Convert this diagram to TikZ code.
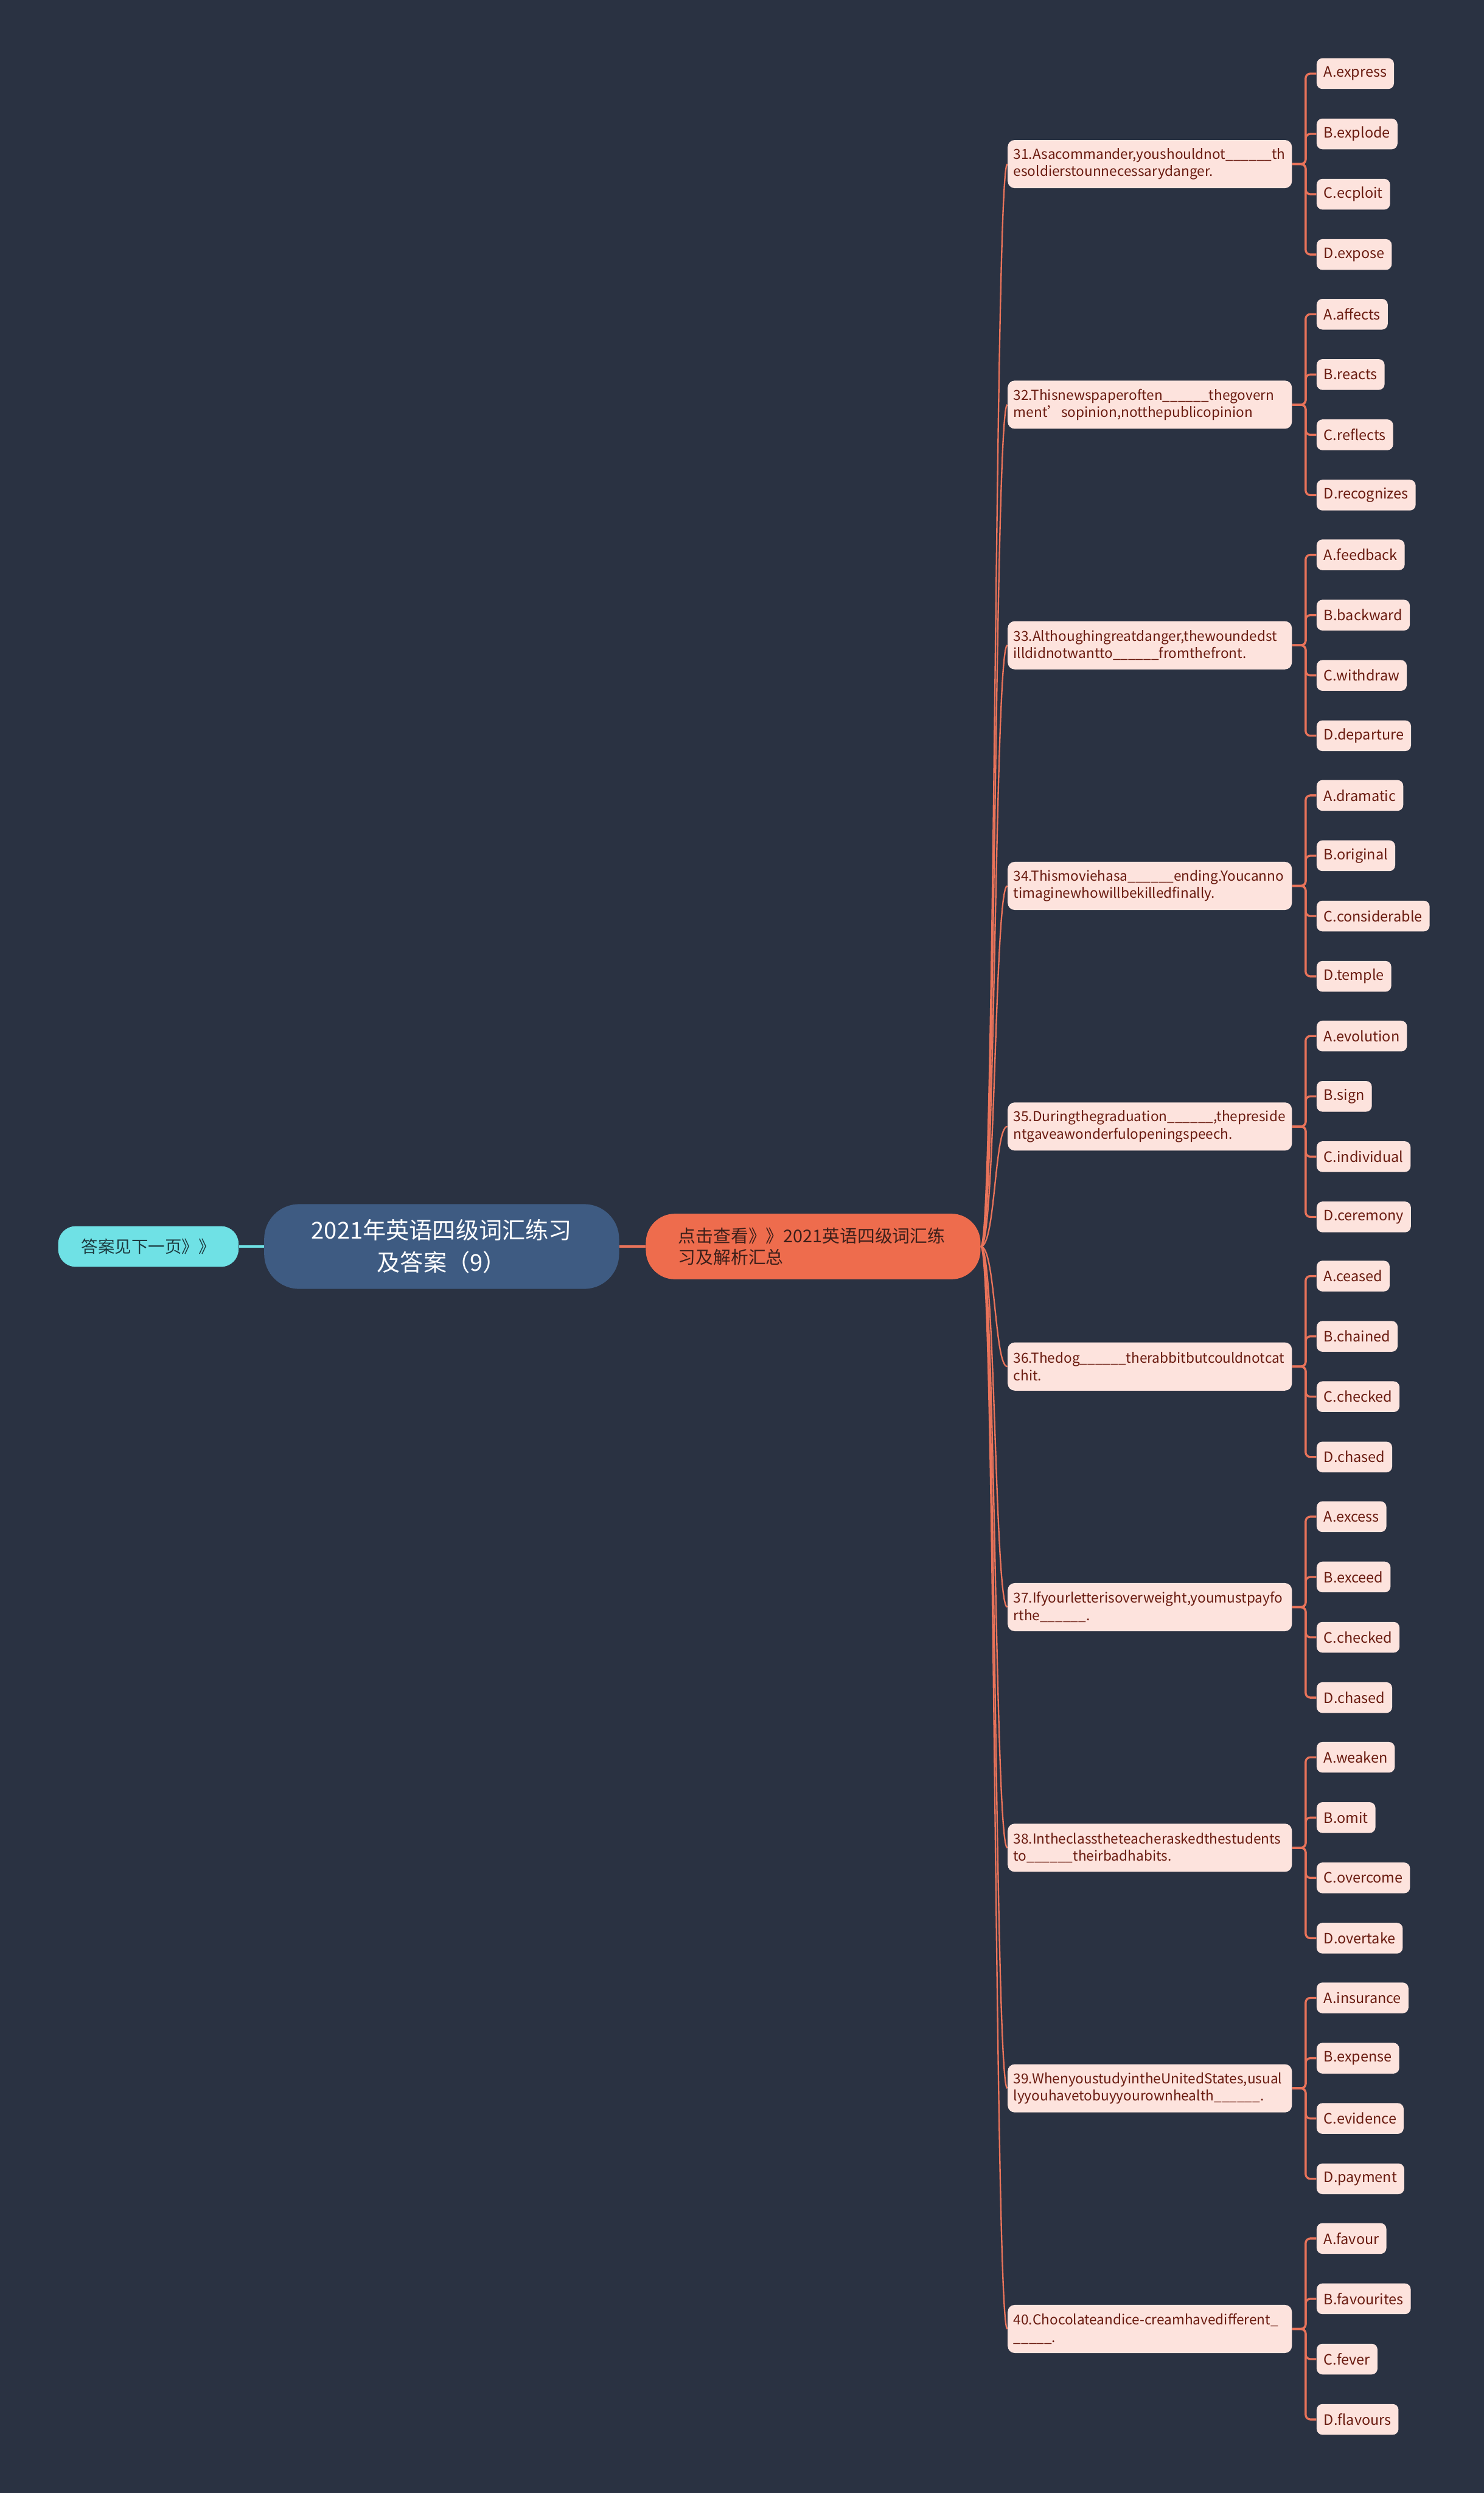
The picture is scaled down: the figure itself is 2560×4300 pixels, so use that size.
\documentclass[tikz,border=0pt]{standalone}
\usepackage{fontspec}
\setmainfont{Noto Sans CJK SC}
\definecolor{bgcol}{HTML}{2A3242}
\definecolor{rootcol}{HTML}{3E5B82}
\definecolor{hubcol}{HTML}{EE6C4D}
\definecolor{hubtxt}{HTML}{3D1F1A}
\definecolor{leftcol}{HTML}{6FE1E5}
\definecolor{lefttxt}{HTML}{1D3B40}
\definecolor{pinkcol}{HTML}{FDE3DD}
\definecolor{txtcol}{HTML}{6A1B10}
\definecolor{linecol}{HTML}{E9735A}
\hyphenpenalty=10000
\exhyphenpenalty=10000
\newcommand{\blank}{\_\_\_\_\_\_}
\tikzset{
  rootbox/.style={fill=rootcol, text=white, rounded corners=0.6cm, align=center, minimum width=6.12cm, minimum height=1.46cm, font=\fontsize{11.4}{15.8}\selectfont},
  hubbox/.style={fill=hubcol, text=hubtxt, rounded corners=0.5cm, align=left, text width=4.65cm, inner xsep=0.56cm, minimum height=1.13cm, font=\fontsize{8.6}{10.5}\selectfont},
  leftbox/.style={fill=leftcol, text=lefttxt, rounded corners=0.3cm, minimum width=3.11cm, minimum height=0.7cm, font=\fontsize{8.2}{10}\selectfont},
  qbox/.style={fill=pinkcol, text=txtcol, rounded corners=0.12cm, anchor=west, align=left, text width=4.7cm, inner xsep=0.1cm, minimum height=0.83cm, font=\fontsize{6.75}{8.5}\selectfont},
  abox/.style={fill=pinkcol, text=txtcol, rounded corners=0.1cm, anchor=west, inner xsep=0.125cm, minimum height=0.53cm, font=\fontsize{7}{8.5}\selectfont},
  trunk/.style={draw=linecol, line width=0.7pt},
  optline/.style={draw=linecol, line width=1pt, rounded corners=0.08cm},
  rootline/.style={line width=1.3pt}
}
\begin{document}
\begin{tikzpicture}[x=0.01cm, y=-0.01cm]
\fill[bgcol] (0,0) rectangle (2560,4300);
\node[leftbox] (left) at (256,2150) {答案见下一页》》};
\node[rootbox] (root) at (762,2150) {2021年英语四级词汇练习\\及答案（9）};
\node[hubbox] (hub) at (1403,2150) {点击查看》》2021英语四级词汇练\\习及解析汇总};

\node[qbox] (q31) at (1738,283) {31.Asacommander,youshouldnot\blank{}th\\esoldierstounnecessarydanger.};
\node[qbox] (q32) at (1738,698) {32.Thisnewspaperoften\blank{}thegovern\\ment’sopinion,notthepublicopinion};
\node[qbox] (q33) at (1738,1113) {33.Althoughingreatdanger,thewoundedst\\illdidnotwantto\blank{}fromthefront.};
\node[qbox] (q34) at (1738,1528) {34.Thismoviehasa\blank{}ending.Youcanno\\timaginewhowillbekilledfinally.};
\node[qbox] (q35) at (1738,1943) {35.Duringthegraduation\blank,thepreside\\ntgaveawonderfulopeningspeech.};
\node[qbox] (q36) at (1738,2357) {36.Thedog\blank{}therabbitbutcouldnotcat\\chit.};
\node[qbox] (q37) at (1738,2772) {37.Ifyourletterisoverweight,youmustpayfo\\rthe\blank.};
\node[qbox] (q38) at (1738,3187) {38.Intheclasstheteacheraskedthestudents\\to\blank{}theirbadhabits.};
\node[qbox] (q39) at (1738,3602) {39.WhenyoustudyintheUnitedStates,usual\\lyyouhavetobuyyourownhealth\blank.};
\node[qbox] (q40) at (1738,4017) {40.Chocolateandice-creamhavedifferent\_\\\_\_\_\_\_.};

\node[abox] (q31a) at (2271,127) {A.express};
\node[abox] (q31b) at (2271,231) {B.explode};
\node[abox] (q31c) at (2271,335) {C.ecploit};
\node[abox] (q31d) at (2271,439) {D.expose};
\node[abox] (q32a) at (2271,542) {A.affects};
\node[abox] (q32b) at (2271,646) {B.reacts};
\node[abox] (q32c) at (2271,750) {C.reflects};
\node[abox] (q32d) at (2271,854) {D.recognizes};
\node[abox] (q33a) at (2271,957) {A.feedback};
\node[abox] (q33b) at (2271,1061) {B.backward};
\node[abox] (q33c) at (2271,1165) {C.withdraw};
\node[abox] (q33d) at (2271,1269) {D.departure};
\node[abox] (q34a) at (2271,1372) {A.dramatic};
\node[abox] (q34b) at (2271,1476) {B.original};
\node[abox] (q34c) at (2271,1580) {C.considerable};
\node[abox] (q34d) at (2271,1684) {D.temple};
\node[abox] (q35a) at (2271,1787) {A.evolution};
\node[abox] (q35b) at (2271,1891) {B.sign};
\node[abox] (q35c) at (2271,1995) {C.individual};
\node[abox] (q35d) at (2271,2099) {D.ceremony};
\node[abox] (q36a) at (2271,2201) {A.ceased};
\node[abox] (q36b) at (2271,2305) {B.chained};
\node[abox] (q36c) at (2271,2409) {C.checked};
\node[abox] (q36d) at (2271,2513) {D.chased};
\node[abox] (q37a) at (2271,2616) {A.excess};
\node[abox] (q37b) at (2271,2720) {B.exceed};
\node[abox] (q37c) at (2271,2824) {C.checked};
\node[abox] (q37d) at (2271,2928) {D.chased};
\node[abox] (q38a) at (2271,3031) {A.weaken};
\node[abox] (q38b) at (2271,3135) {B.omit};
\node[abox] (q38c) at (2271,3239) {C.overcome};
\node[abox] (q38d) at (2271,3343) {D.overtake};
\node[abox] (q39a) at (2271,3446) {A.insurance};
\node[abox] (q39b) at (2271,3550) {B.expense};
\node[abox] (q39c) at (2271,3654) {C.evidence};
\node[abox] (q39d) at (2271,3758) {D.payment};
\node[abox] (q40a) at (2271,3861) {A.favour};
\node[abox] (q40b) at (2271,3965) {B.favourites};
\node[abox] (q40c) at (2271,4069) {C.fever};
\node[abox] (q40d) at (2271,4173) {D.flavours};

\draw[rootline, leftcol] (left) -- (root);
\draw[rootline, linecol] (root) -- (hub);
\foreach \q in {31,...,40}
{\draw[trunk] (hub.east) .. controls +(25,0) and +(-22,0) .. (q\q.west);}
\foreach \q in {31,...,40}
{\foreach \c in {a,b,c,d}
{\draw[optline] (q\q.east) -- ++(23,0) |- (q\q\c.west);}}

\end{tikzpicture}
\end{document}
